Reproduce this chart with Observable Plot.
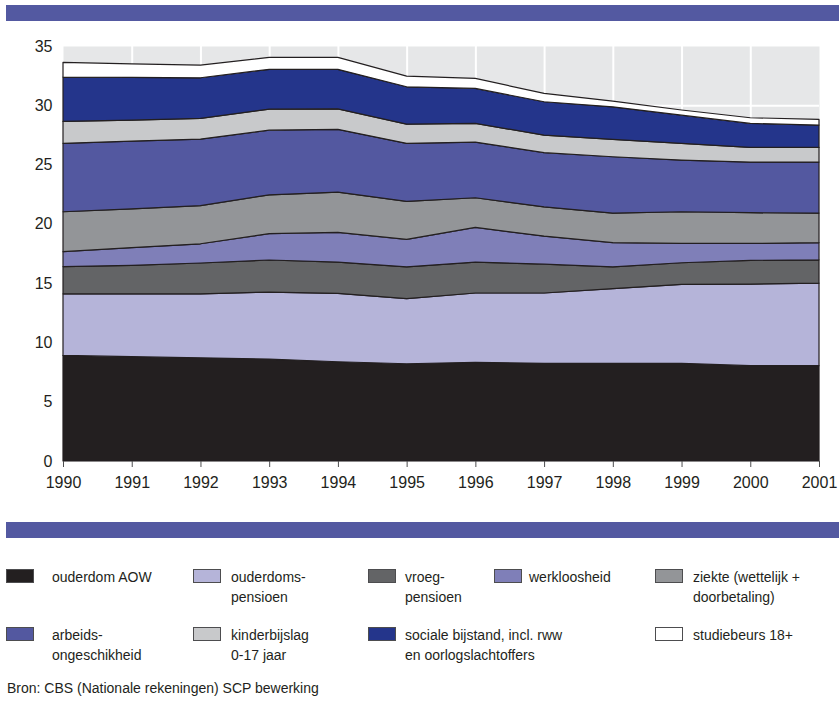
<!DOCTYPE html>
<html>
<head>
<meta charset="utf-8">
<script src="https://cdn.jsdelivr.net/npm/d3@7"></script>
<script src="https://cdn.jsdelivr.net/npm/@observablehq/plot@0.6"></script>
<style>
  html, body { margin: 0; padding: 0; background: #ffffff; }
  body { width: 839px; height: 703px; position: relative; overflow: hidden;
         font-family: "Liberation Sans", Arial, sans-serif; color: #231f20; }
  .bar { position: absolute; left: 6px; right: 0; height: 16px; background: #5359a1; }
  #chart { position: absolute; left: 0; top: 25px; }
  .leg { position: absolute; font-size: 14px; line-height: 20px; white-space: nowrap; }
  .sw { position: absolute; width: 26px; height: 12px; border: 1px solid #4d4d4f; }
  .src { position: absolute; left: 7px; top: 678px; font-size: 14px; line-height: 20px; }
</style>
</head>
<body>
<div class="bar" style="top:5px"></div>
<div id="chart"></div>
<div class="bar" style="top:522px"></div>
<div id="legend"></div>
<div class="src">Bron: CBS (Nationale rekeningen) SCP bewerking</div>
<script>
const years = [1990, 1991, 1992, 1993, 1994, 1995, 1996, 1997, 1998, 1999, 2000, 2001];
const yTicks = [0, 5, 10, 15, 20, 25, 30, 35];

const seriesNames = [
  "ouderdom AOW", "ouderdomspensioen", "vroegpensioen", "werkloosheid",
  "ziekte (wettelijk + doorbetaling)", "arbeidsongeschikheid", "kinderbijslag 0-17 jaar",
  "sociale bijstand, incl. rww en oorlogslachtoffers", "studiebeurs 18+"
];
const aow           = [8.90, 8.80, 8.70, 8.60, 8.37, 8.20, 8.32, 8.24, 8.24, 8.24, 8.04, 8.04];
const pensioen      = [5.20, 5.30, 5.40, 5.65, 5.77, 5.49, 5.85, 5.93, 6.29, 6.66, 6.88, 6.96];
const vroegpensioen = [2.30, 2.40, 2.60, 2.70, 2.64, 2.69, 2.61, 2.43, 1.85, 1.82, 2.00, 1.97];
const werkloosheid  = [1.25, 1.50, 1.62, 2.22, 2.50, 2.31, 2.92, 2.37, 2.03, 1.63, 1.43, 1.44];
const ziekte        = [3.37, 3.27, 3.21, 3.28, 3.40, 3.21, 2.50, 2.47, 2.50, 2.67, 2.59, 2.50];
const arbeidsong    = [5.77, 5.71, 5.62, 5.45, 5.29, 4.89, 4.70, 4.56, 4.75, 4.36, 4.27, 4.30];
const kinderbijslag = [1.85, 1.77, 1.74, 1.78, 1.73, 1.62, 1.57, 1.49, 1.46, 1.41, 1.24, 1.24];
const bijstand      = [3.74, 3.60, 3.43, 3.35, 3.33, 3.15, 2.95, 2.81, 2.75, 2.38, 2.02, 1.88];
const studiebeurs   = [1.24, 1.15, 1.07, 1.01, 1.01, 0.90, 0.85, 0.70, 0.48, 0.43, 0.48, 0.48];

const seriesValues = [aow, pensioen, vroegpensioen, werkloosheid, ziekte, arbeidsong, kinderbijslag, bijstand, studiebeurs];
const seriesColors = ["#231f20", "#b5b4d9", "#636466", "#7f7fb8", "#939598", "#5358a0", "#c8c9cb", "#24358b", "#ffffff"];

const data = [];
seriesNames.forEach((name, i) => {
  years.forEach((yr, j) => data.push({ series: name, year: yr, value: seriesValues[i][j] }));
});

const chart = Plot.plot({
  width: 839,
  height: 485,
  marginLeft: 63,
  marginRight: 20,
  marginTop: 21,
  marginBottom: 49,
  style: { fontFamily: "'Liberation Sans', Arial, sans-serif", fontSize: "16px", color: "#231f20", background: "transparent", overflow: "visible" },
  x: { domain: [1990, 2001], ticks: years, tickFormat: d => String(d), label: null, tickSize: 6, tickPadding: 9 },
  y: { domain: [0, 35], ticks: yTicks, label: null, tickSize: 0, tickPadding: 11 },
  color: { domain: seriesNames, range: seriesColors },
  marks: [
    Plot.frame({ fill: "#e6e7e8", stroke: "none" }),
    Plot.ruleX(years.slice(1, -1), { stroke: "#ffffff", strokeWidth: 2 }),
    Plot.ruleY(yTicks.slice(1, -1), { stroke: "#ffffff", strokeWidth: 2 }),
    Plot.areaY(data, { x: "year", y: "value", z: "series", fill: "series", stroke: "#231f20", strokeWidth: 1.2, strokeLinejoin: "round" }),
    Plot.axisX({ ticks: years, tickFormat: d => String(d), tickSize: 6, tickPadding: 9, label: null, stroke: "#4d4d4f" }),
    Plot.axisY({ ticks: yTicks, tickSize: 0, tickPadding: 11, label: null })
  ]
});
document.getElementById("chart").appendChild(chart);

// legend
const legendItems = [
  { i: 0, text: "ouderdom AOW", sx: 6, tx: 52, row: 0 },
  { i: 1, text: "ouderdoms-<br>pensioen", sx: 193, tx: 231, row: 0 },
  { i: 2, text: "vroeg-<br>pensioen", sx: 368, tx: 405, row: 0 },
  { i: 3, text: "werkloosheid", sx: 494, tx: 529, row: 0 },
  { i: 4, text: "ziekte (wettelijk +<br>doorbetaling)", sx: 655, tx: 693, row: 0 },
  { i: 5, text: "arbeids-<br>ongeschikheid", sx: 6, tx: 52, row: 1 },
  { i: 6, text: "kinderbijslag<br>0-17 jaar", sx: 193, tx: 231, row: 1 },
  { i: 7, text: "sociale bijstand, incl. rww<br>en oorlogslachtoffers", sx: 368, tx: 405, row: 1 },
  { i: 8, text: "studiebeurs 18+", sx: 655, tx: 693, row: 1 }
];
const rowTop = [567, 625];
const leg = document.getElementById("legend");
legendItems.forEach(it => {
  const sw = document.createElement("div");
  sw.className = "sw";
  sw.style.left = it.sx + "px";
  sw.style.top = (rowTop[it.row] + 2) + "px";
  sw.style.background = seriesColors[it.i];
  leg.appendChild(sw);
  const t = document.createElement("div");
  t.className = "leg";
  t.style.left = it.tx + "px";
  t.style.top = rowTop[it.row] + "px";
  t.innerHTML = it.text;
  leg.appendChild(t);
});
</script>
</body>
</html>
